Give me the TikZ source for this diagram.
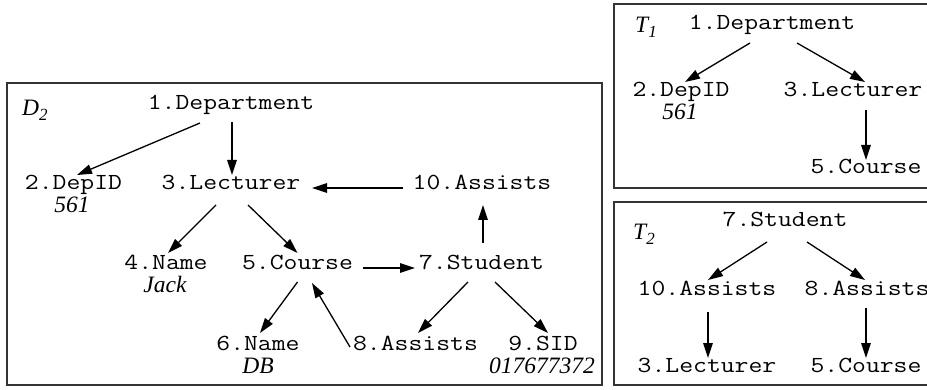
\documentclass[tikz,border=0pt]{standalone}
\usepackage{fontspec}
\usepackage{graphicx}
\setmainfont{Liberation Serif}
\usetikzlibrary{arrows.meta}
% typewriter labels, widened to Courier-like proportions
\newcommand{\mono}[1]{\scalebox{1.17}[1]{\ttfamily\fontsize{23}{23}\selectfont #1}}
\newcommand{\tagsub}[1]{\raisebox{-5pt}{\fontsize{17}{17}\selectfont #1}}
\begin{document}
\begin{tikzpicture}[x=1pt,y=-1pt,
  lbl/.style={anchor=base,inner sep=0pt},
  val/.style={anchor=base,inner sep=0pt,font=\fontsize{23.5}{23.5}\selectfont\itshape},
  tag/.style={anchor=base west,inner sep=0pt,font=\fontsize{23.5}{23.5}\selectfont\itshape},
  edge/.style={line width=1.3pt,-{Triangle[length=15pt,width=9.5pt]}},
  frame/.style={draw=black!80,line width=1.4pt}]
\useasboundingbox (0,0) rectangle (927,390);
\clip (0,0) rectangle (927,390);

% frames
\draw[frame] (7,83) rectangle (602,385);
\draw[frame] (614,4) rectangle (940,188);
\draw[frame] (614,202) rectangle (940,385);

% document tree D_2
\node[tag] (dl) at (22,116) {D\tagsub{2}};
\node[lbl] (n1) at (231,110) {\mono{1.Department}};
\node[lbl] (n2) at (73.5,190) {\mono{2.DepID}};
\node[val] (v2) at (72,213) {561};
\node[lbl] (n3) at (231,190) {\mono{3.Lecturer}};
\node[lbl] (n4) at (166,270) {\mono{4.Name}};
\node[val] (v4) at (165,293) {Jack};
\node[lbl] (n5) at (297.5,270) {\mono{5.Course}};
\node[lbl] (n6) at (258,350) {\mono{6.Name}};
\node[val] (v6) at (258,373) {DB};
\node[lbl] (n7) at (481.5,270) {\mono{7.Student}};
\node[lbl] (n8) at (415.5,350) {\mono{8.Assists}};
\node[lbl] (n9) at (543,350) {\mono{9.SID}};
\node[val] (v9) at (542,373) {017677372};
\node[lbl] (n10) at (482,190) {\mono{10.Assists}};

\draw[edge] ([shift={(-31,13)}]n1.base) -- ([shift={(3.5,-15)}]n2.base);
\draw[edge] ([shift={(1,12)}]n1.base) -- ([shift={(1,-15)}]n3.base);
\draw[edge] ([shift={(-15,15)}]n3.base) -- ([shift={(2,-17)}]n4.base);
\draw[edge] ([shift={(17,15)}]n3.base) -- ([shift={(0,-17)}]n5.base);
\draw[edge] ([shift={(0,12)}]n5.base) -- ([shift={(2,-17)}]n6.base);
\draw[edge] ([shift={(-65.5,-3)}]n8.base) -- ([shift={(14.5,13)}]n5.base);
\draw[edge] ([shift={(-79,-2)}]n10.base) -- ([shift={(81,-2)}]n3.base);
\draw[edge] ([shift={(65.5,-2)}]n5.base) -- ([shift={(-66.5,-2)}]n7.base);
\draw[edge] ([shift={(1.5,-27)}]n7.base) -- ([shift={(1,15)}]n10.base);
\draw[edge] ([shift={(-13.5,12)}]n7.base) -- ([shift={(2.5,-17)}]n8.base);
\draw[edge] ([shift={(13.5,12)}]n7.base) -- ([shift={(5,-17)}]n9.base);

% tree T_1
\node[tag] (t1l) at (635,33) {T\tagsub{1}};
\node[lbl] (a1) at (772,30) {\mono{1.Department}};
\node[lbl] (a2) at (681,97) {\mono{2.DepID}};
\node[val] (av2) at (680,120) {561};
\node[lbl] (a3) at (853,97) {\mono{3.Lecturer}};
\node[lbl] (a5) at (866,174) {\mono{5.Course}};

\draw[edge] ([shift={(-22,13)}]a1.base) -- ([shift={(4,-15)}]a2.base);
\draw[edge] ([shift={(25,13)}]a1.base) -- ([shift={(12,-15)}]a3.base);
\draw[edge] ([shift={(13,13)}]a3.base) -- ([shift={(0,-14)}]a5.base);

% tree T_2
\node[tag] (t2l) at (633,240) {T\tagsub{2}};
\node[lbl] (b7) at (785,227) {\mono{7.Student}};
\node[lbl] (b10) at (707,295) {\mono{10.Assists}};
\node[lbl] (b8) at (867,295) {\mono{8.Assists}};
\node[lbl] (b3) at (707,372) {\mono{3.Lecturer}};
\node[lbl] (b5) at (866,372) {\mono{5.Course}};

\draw[edge] ([shift={(-18,15)}]b7.base) -- ([shift={(1,-15)}]b10.base);
\draw[edge] ([shift={(22,15)}]b7.base) -- ([shift={(-2,-15)}]b8.base);
\draw[edge] ([shift={(1,17)}]b10.base) -- ([shift={(1,-14)}]b3.base);
\draw[edge] ([shift={(-1,13)}]b8.base) -- ([shift={(0,-14)}]b5.base);
\end{tikzpicture}
\end{document}
